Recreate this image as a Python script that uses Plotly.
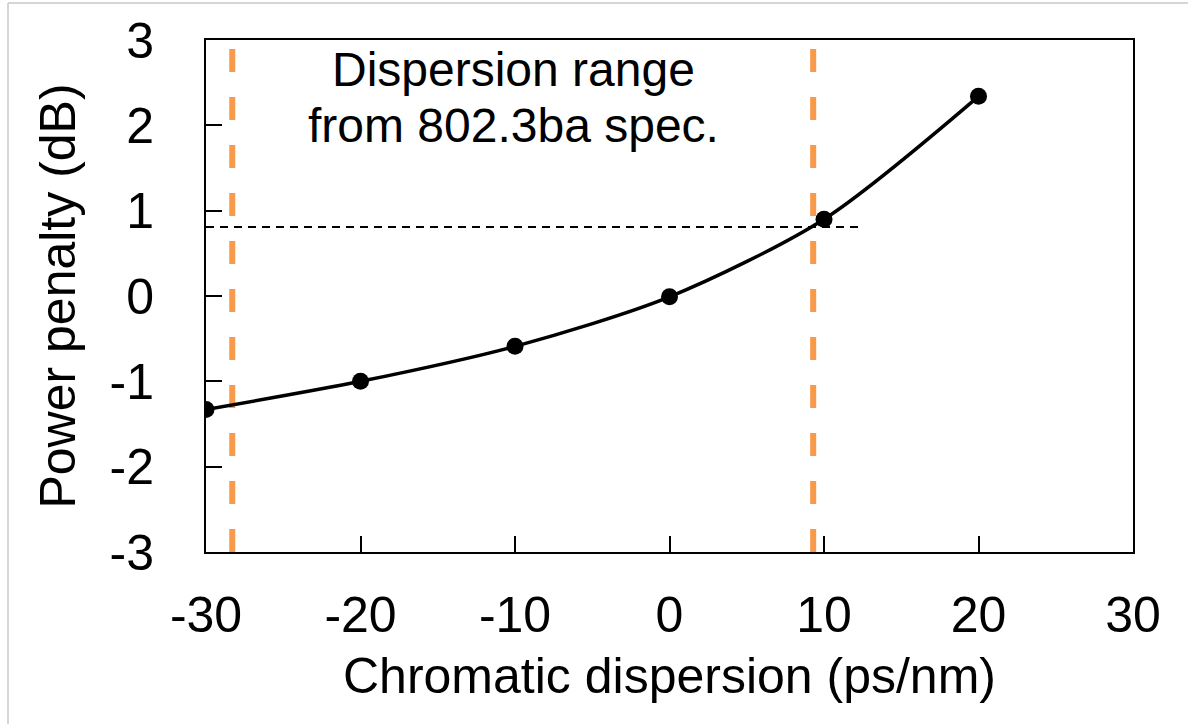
import plotly.graph_objects as go

# Data
dispersion = [-30, -20, -10, 0, 10, 20]
penalty = [-1.33, -1.0, -0.59, -0.01, 0.9, 2.34]
spec_limits = [-28.3, 9.3]
penalty_ref = 0.81
ref_line_x = [-30, 12.5]
x_ticks = [-30, -20, -10, 0, 10, 20, 30]
y_ticks = [-3, -2, -1, 0, 1, 2, 3]
note_lines = ["Dispersion range", "from 802.3ba spec."]

FONT = "Liberation Sans, Arial, sans-serif"
W, H = 1188, 724
L, R, T, B = 206, 55, 40, 172
pw, ph = W - L - R, H - T - B

fig = go.Figure()

fig.add_trace(go.Scatter(
    x=dispersion, y=penalty, mode="lines+markers",
    line=dict(color="black", width=3.5, shape="spline", smoothing=0.8),
    marker=dict(color="black", size=17),
    showlegend=False, hoverinfo="x+y",
))

shapes = []
for xv in spec_limits:
    shapes.append(dict(type="line", xref="x", yref="paper", x0=xv, x1=xv, y0=0, y1=1,
                       line=dict(color="#F79A4A", width=6, dash="23px,25px"), layer="below"))
shapes.append(dict(type="line", xref="x", yref="y", x0=ref_line_x[0], x1=ref_line_x[1],
                   y0=penalty_ref, y1=penalty_ref,
                   line=dict(color="black", width=2, dash="8px,6px"), layer="below"))

# light gray outer border (left and top edges)
def px_x(p):
    return (p - L) / pw

def px_y(p):
    return (H - B - p) / ph

shapes.append(dict(type="line", xref="paper", yref="paper", x0=px_x(8), x1=px_x(8),
                   y0=px_y(3), y1=px_y(724), line=dict(color="#c8c8c8", width=1.5)))
shapes.append(dict(type="line", xref="paper", yref="paper", x0=px_x(8), x1=px_x(1188),
                   y0=px_y(3), y1=px_y(3), line=dict(color="#c8c8c8", width=1.5)))

annotations = [
    dict(x=-10.1, y=2.65, xref="x", yref="y", text=note_lines[0], showarrow=False,
         font=dict(family=FONT, size=48, color="black"), xanchor="center", yanchor="middle"),
    dict(x=-10.1, y=2.0, xref="x", yref="y", text=note_lines[1], showarrow=False,
         font=dict(family=FONT, size=48, color="black"), xanchor="center", yanchor="middle"),
]

axis_common = dict(
    showgrid=False, zeroline=False, showline=True, linecolor="black", linewidth=2,
    mirror=True, ticks="inside", ticklen=16, tickwidth=2, tickcolor="black",
    tickfont=dict(family=FONT, size=50, color="black"),
)

fig.update_layout(
    width=W, height=H,
    margin=dict(l=L, r=R, t=T, b=B),
    paper_bgcolor="white", plot_bgcolor="white",
    shapes=shapes, annotations=annotations,
    xaxis=dict(range=[-30, 30], tickvals=x_ticks, ticktext=[str(v) for v in x_ticks],
               ticklabelstandoff=18,
               title=dict(text="Chromatic dispersion (ps/nm)", font=dict(family=FONT, size=50, color="black"),
                          standoff=16),
               **axis_common),
    yaxis=dict(range=[-3, 3], tickvals=y_ticks, ticktext=[str(v) for v in y_ticks],
               ticklabelstandoff=40,
               title=dict(text="Power penalty (dB)", font=dict(family=FONT, size=50, color="black"),
                          standoff=18),
               **axis_common),
)

fig.write_html("out.html")
